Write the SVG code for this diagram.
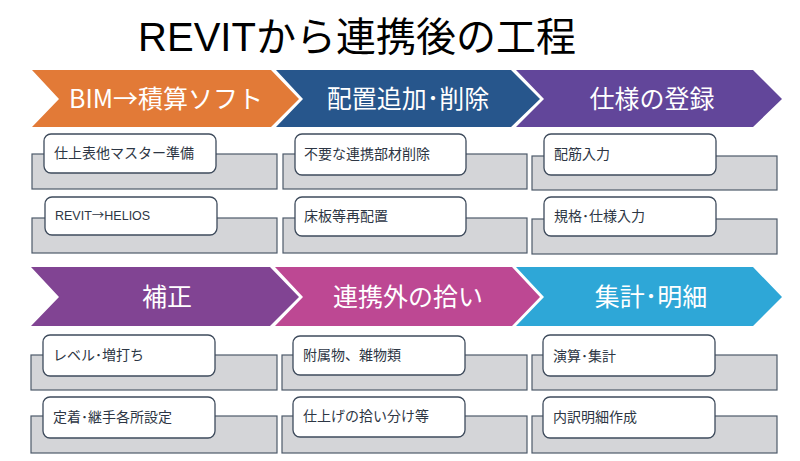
<svg xmlns="http://www.w3.org/2000/svg" width="800" height="461" viewBox="0 0 800 461">
<style>
.title{font-family:"Liberation Sans","Noto Sans CJK JP",sans-serif;font-size:40px;fill:#000}
.lab{font-family:"Noto Sans CJK JP",sans-serif;font-size:25px;fill:#fff;text-anchor:middle}
.gray{fill:#d4d5d8;stroke:#4d5a6a;stroke-width:1.2}
.card{fill:#fff;stroke:#3e4b5c;stroke-width:1.3}
.txt{font-family:"Noto Sans CJK JP",sans-serif;font-size:14px;fill:#2d3644}
.sm{font-family:"Liberation Sans","Noto Sans CJK JP",sans-serif;font-size:12.5px}
.arr{font-family:"Noto Sans CJK JP",sans-serif}
</style>
<rect width="800" height="461" fill="#fff"/>
<text class="title" x="357" y="51" text-anchor="middle">REVITから連携後の工程</text>

<g id="s1"><polygon points="32,70 271,70 299,99 271,127 32,127 59,99" fill="#e27a37"/><text class="lab" x="166" y="108">BIM→積算ソフト</text></g>
<g id="s2"><polygon points="276,70 511,70 540,99 511,127 276,127 303,99" fill="#27568c"/><text class="lab" x="408" y="108">配置追加･削除</text></g>
<g id="s3"><polygon points="516,70 753,70 782,99 753,127 516,127 544,99" fill="#62469a"/><text class="lab" x="652" y="108">仕様の登録</text></g>
<g id="s4"><polygon points="31,267 270,267 299,297 270,326 31,326 59,297" fill="#814493"/><text class="lab" x="167" y="306">補正</text></g>
<g id="s5"><polygon points="275,267 512,267 540,297 512,326 275,326 303,297" fill="#bd4893"/><text class="lab" x="408" y="306">連携外の拾い</text></g>
<g id="s6"><polygon points="516,267 753,267 782,297 753,326 516,326 544,297" fill="#2ea7d7"/><text class="lab" x="651" y="306">集計･明細</text></g>

<g id="n1"><rect class="gray" x="32" y="154" width="245" height="35"/><rect class="card" x="44" y="134" width="172" height="39" rx="7"/><text class="txt" x="54" y="158">仕上表他マスター準備</text></g>
<g id="n2"><rect class="gray" x="32" y="218" width="245" height="35"/><rect class="card" x="45" y="197" width="172" height="38" rx="7"/><text class="txt sm" x="55" y="220">REVIT<tspan class="arr">→</tspan>HELIOS</text></g>
<g id="n3"><rect class="gray" x="283" y="154" width="244" height="35"/><rect class="card" x="295" y="134" width="171" height="41" rx="7"/><text class="txt" x="304" y="159">不要な連携部材削除</text></g>
<g id="n4"><rect class="gray" x="283" y="218" width="244" height="35"/><rect class="card" x="295" y="197" width="171" height="39" rx="7"/><text class="txt" x="304" y="221">床板等再配置</text></g>
<g id="n5"><rect class="gray" x="532" y="156" width="245" height="34"/><rect class="card" x="544" y="134" width="172" height="41" rx="7"/><text class="txt" x="554" y="159">配筋入力</text></g>
<g id="n6"><rect class="gray" x="532" y="219" width="245" height="35"/><rect class="card" x="544" y="197" width="172" height="39" rx="7"/><text class="txt" x="554" y="221">規格･仕様入力</text></g>

<g id="n7"><rect class="gray" x="31" y="355" width="246" height="35"/><rect class="card" x="43" y="335" width="172" height="41" rx="7"/><text class="txt" x="53" y="360">レベル･増打ち</text></g>
<g id="n8"><rect class="gray" x="31" y="416" width="246" height="37"/><rect class="card" x="43" y="397" width="172" height="41" rx="7"/><text class="txt" x="53" y="422">定着･継手各所設定</text></g>
<g id="n9"><rect class="gray" x="282" y="355" width="245" height="35"/><rect class="card" x="293" y="336" width="172" height="39" rx="7"/><text class="txt" x="303" y="360">附属物、雑物類</text></g>
<g id="n10"><rect class="gray" x="282" y="416" width="245" height="37"/><rect class="card" x="293" y="397" width="172" height="40" rx="7"/><text class="txt" x="303" y="421">仕上げの拾い分け等</text></g>
<g id="n11"><rect class="gray" x="532" y="355" width="245" height="35"/><rect class="card" x="543" y="335" width="172" height="41" rx="7"/><text class="txt" x="553" y="361">演算･集計</text></g>
<g id="n12"><rect class="gray" x="532" y="416" width="245" height="37"/><rect class="card" x="543" y="397" width="172" height="41" rx="7"/><text class="txt" x="553" y="422">内訳明細作成</text></g>
<g id="connectors"></g>
</svg>
